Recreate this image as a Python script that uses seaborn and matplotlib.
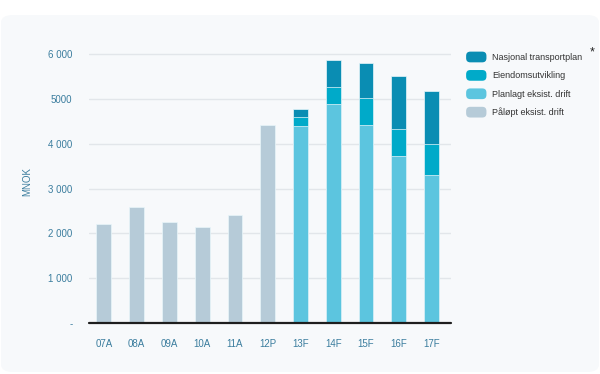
import numpy as np
import pandas as pd
import seaborn as sns
import matplotlib
matplotlib.use("Agg")
import matplotlib.pyplot as plt
from matplotlib.patches import FancyBboxPatch, Patch
from matplotlib.legend_handler import HandlerPatch

categories = ["07A", "08A", "09A", "10A", "11A", "12P", "13F", "14F", "15F", "16F", "17F"]
paalopt = [2200, 2580, 2245, 2130, 2410, 4410, np.nan, np.nan, np.nan, np.nan, np.nan]
planlagt = [np.nan, np.nan, np.nan, np.nan, np.nan, np.nan, 4390, 4880, 4420, 3720, 3300]
eiendom = [np.nan, np.nan, np.nan, np.nan, np.nan, np.nan, 210, 390, 600, 600, 690]
ntp = [np.nan, np.nan, np.nan, np.nan, np.nan, np.nan, 180, 610, 790, 1190, 1190]
yticks = [0, 1000, 2000, 3000, 4000, 5000, 6000]
ytick_labels = ["-", "1 000", "2 000", "3 000", "4 000", "5000", "6 000"]
series_names = ["Nasjonal transportplan", "Eiendomsutvikling", "Planlagt eksist. drift", "Påløpt eksist. drift"]

colors = {"ntp": "#0a8db3", "eiendom": "#00aac9", "planlagt": "#5cc5df", "paalopt": "#b6cbd8"}
txt_color = "#3b7d9e"

sns.set_theme(style="white")
plt.rcParams['font.family'] = ['Liberation Sans', 'DejaVu Sans']

df = pd.DataFrame({"cat": categories, "paalopt": paalopt, "planlagt": planlagt,
                   "eiendom": eiendom, "ntp": ntp})
df["lvl_pl"] = df["planlagt"]
df["lvl_ei"] = df["planlagt"] + df["eiendom"]
df["lvl_ntp"] = df["lvl_ei"] + df["ntp"]

fig = plt.figure(figsize=(6, 3.74), dpi=100)
fig.patch.set_facecolor("white")
bg = FancyBboxPatch((1 / 600, (374 - 372) / 374), 598 / 600, 357 / 374,
                    boxstyle="round,pad=0,rounding_size=0.02",
                    transform=fig.transFigure, facecolor="#f7f9fb", edgecolor="none", zorder=-10)
fig.patches.append(bg)

ax = fig.add_axes([89 / 600, (374 - 322.7) / 374, (451 - 89) / 600, 281.8 / 374])
ax.set_zorder(2)
ax.set_facecolor("none")

w = 0.45
for col, key in [("lvl_ntp", "ntp"), ("lvl_ei", "eiendom"), ("lvl_pl", "planlagt"), ("paalopt", "paalopt")]:
    sns.barplot(data=df, x="cat", y=col, order=categories, color=colors[key],
                width=w, saturation=1, ax=ax, errorbar=None, zorder=3,
                edgecolor="#e8f6fa", linewidth=0.5)

ax.set_xlim(-0.45, 10.59)
ax.set_ylim(0, 6300)
ax.set_yticks(yticks)
ax.set_yticklabels(ytick_labels)
ax.yaxis.grid(True, color="#e2e6ea", linewidth=1)
ax.set_axisbelow(True)
for s in ["top", "right", "left", "bottom"]:
    ax.spines[s].set_visible(False)
ax.axhline(0, color="#1e1e1e", linewidth=1.6, zorder=5, clip_on=False)
ax.tick_params(axis="both", length=0, labelsize=7, colors=txt_color)
ax.tick_params(axis="y", pad=12)
ax.tick_params(axis="x", pad=12)
ax.set_xlabel("")
ax.set_ylabel("MNOK", color=txt_color, fontsize=7, labelpad=11)


class RoundHandler(HandlerPatch):
    def create_artists(self, legend, orig_handle, xdescent, ydescent, width, height, fontsize, trans):
        p = FancyBboxPatch((-xdescent, -ydescent), width, height,
                           boxstyle="round,pad=0,rounding_size=3",
                           facecolor=orig_handle.get_facecolor(), edgecolor="none", transform=trans)
        return [p]


handles = [Patch(facecolor=colors[k]) for k in ["ntp", "eiendom", "planlagt", "paalopt"]]
leg = fig.legend(handles, series_names, loc="upper left", bbox_to_anchor=(458 / 600, 1 - 43.5 / 374),
                 frameon=False, fontsize=6.5, handlelength=2.25, handleheight=1.45,
                 handletextpad=0.6, labelspacing=0.85,
                 handler_map={Patch: RoundHandler()})
for t in leg.get_texts():
    t.set_color("#333333")
fig.text(592 / 600, 1 - 52 / 374, "*", fontsize=9, color="#222222", ha="center", va="center")

fig.savefig("out.png", dpi=100, facecolor="white")
